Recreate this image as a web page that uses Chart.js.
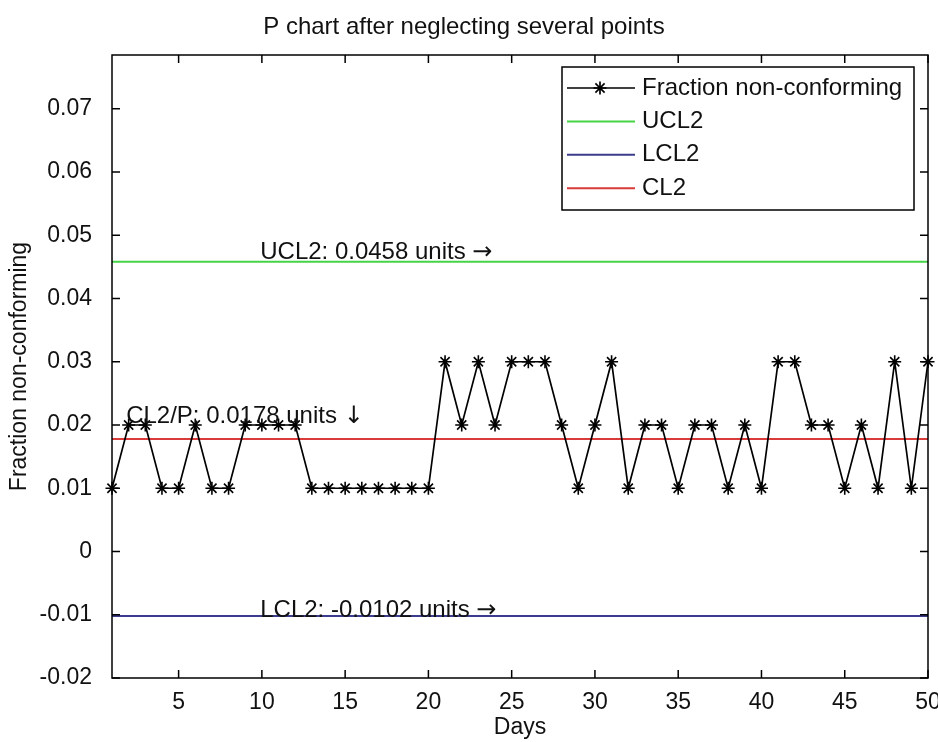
<!DOCTYPE html>
<html>
<head>
<meta charset="utf-8">
<script src="https://cdn.jsdelivr.net/npm/chart.js@4/dist/chart.umd.min.js"></script>
<style>
  body { margin: 0; background: #fff; }
  #wrap { width: 938px; height: 742px; }
</style>
</head>
<body>
<div id="wrap"><canvas id="pchart" width="938" height="742"></canvas></div>
<script>
// data
const days = [1, 2, 3, 4, 5, 6, 7, 8, 9, 10,
              11, 12, 13, 14, 15, 16, 17, 18, 19, 20,
              21, 22, 23, 24, 25, 26, 27, 28, 29, 30,
              31, 32, 33, 34, 35, 36, 37, 38, 39, 40,
              41, 42, 43, 44, 45, 46, 47, 48, 49, 50];
const fraction = [0.01, 0.02, 0.02, 0.01, 0.01, 0.02, 0.01, 0.01, 0.02, 0.02,
                  0.02, 0.02, 0.01, 0.01, 0.01, 0.01, 0.01, 0.01, 0.01, 0.01,
                  0.03, 0.02, 0.03, 0.02, 0.03, 0.03, 0.03, 0.02, 0.01, 0.02,
                  0.03, 0.01, 0.02, 0.02, 0.01, 0.02, 0.02, 0.01, 0.02, 0.01,
                  0.03, 0.03, 0.02, 0.02, 0.01, 0.02, 0.01, 0.03, 0.01, 0.03];
const ucl2 = 0.0458;
const lcl2 = -0.0102;
const cl2 = 0.0178;
const seriesLabels = ['Fraction non-conforming', 'UCL2', 'LCL2', 'CL2'];
const xTicks = [5, 10, 15, 20, 25, 30, 35, 40, 45, 50];
const yTicks = [-0.02, -0.01, 0, 0.01, 0.02, 0.03, 0.04, 0.05, 0.06, 0.07];
const notes = [
    { text: 'UCL2: 0.0458 units \u2192', value: ucl2 },
    { text: 'CL2/P: 0.0178 units \u2193', value: cl2 },
    { text: 'LCL2: -0.0102 units \u2192', value: lcl2 }
];

const FONT = "'Liberation Sans', Arial, sans-serif";
const colors = ['#000000', '#46d346', '#3c3c8e', '#d93a3a'];

// where the text notes sit: day on x, pixel shift of baseline from its line
const notePlace = [
    { day: 9.9, dy: -3 },
    { day: 1.85, dy: -16 },
    { day: 9.9, dy: 1 }
];

function flatLine(v) {
    return days.map(d => ({ x: d, y: v }));
}

// MATLAB style box with inward ticks on all four sides
const boxTicks = {
    id: 'boxTicks',
    afterDatasetsDraw(chart) {
        const { ctx, chartArea: a, scales: { x, y } } = chart;
        ctx.save();
        ctx.strokeStyle = '#000';
        ctx.lineWidth = 1.5;
        ctx.strokeRect(a.left, a.top, a.width, a.height);
        ctx.beginPath();
        xTicks.forEach(v => {
            const px = x.getPixelForValue(v);
            ctx.moveTo(px, a.bottom); ctx.lineTo(px, a.bottom - 8);
            ctx.moveTo(px, a.top); ctx.lineTo(px, a.top + 8);
        });
        yTicks.forEach(v => {
            const py = y.getPixelForValue(v);
            ctx.moveTo(a.left, py); ctx.lineTo(a.left + 8, py);
            ctx.moveTo(a.right, py); ctx.lineTo(a.right - 8, py);
        });
        ctx.stroke();
        ctx.restore();
    }
};

// text notes next to the control lines (arrow glyph taken from DejaVu, it is bigger)
const lineNotes = {
    id: 'lineNotes',
    afterDraw(chart) {
        const { ctx, scales: { x, y } } = chart;
        ctx.save();
        ctx.fillStyle = '#111';
        ctx.textBaseline = 'alphabetic';
        ctx.textAlign = 'left';
        notes.forEach((n, i) => {
            const p = notePlace[i];
            const body = n.text.slice(0, -1);
            const arrow = n.text.slice(-1);
            const px = x.getPixelForValue(p.day);
            const py = y.getPixelForValue(n.value) + p.dy;
            ctx.font = '24px ' + FONT;
            ctx.fillText(body, px, py);
            const w = ctx.measureText(body).width;
            ctx.font = "24px 'DejaVu Sans', sans-serif";
            ctx.fillText(arrow, px + w, py);
        });
        ctx.restore();
    }
};

// legend box in the top right corner
const boxLegend = {
    id: 'boxLegend',
    afterDraw(chart) {
        const { ctx, chartArea: a } = chart;
        const w = 352, h = 143;
        const left = a.right - 14 - w;
        const top = a.top + 12;
        ctx.save();
        ctx.fillStyle = '#fff';
        ctx.fillRect(left, top, w, h);
        ctx.strokeStyle = '#000';
        ctx.lineWidth = 1.5;
        ctx.strokeRect(left, top, w, h);
        ctx.font = '24px ' + FONT;
        ctx.textBaseline = 'middle';
        ctx.textAlign = 'left';
        chart.data.datasets.forEach((ds, i) => {
            const ry = top + 21 + i * 33.4;
            ctx.strokeStyle = ds.borderColor;
            ctx.lineWidth = ds.borderWidth;
            ctx.beginPath();
            ctx.moveTo(left + 5, ry);
            ctx.lineTo(left + 73, ry);
            ctx.stroke();
            if (ds.pointRadius > 0) {
                Chart.helpers.drawPoint(ctx, {
                    pointStyle: 'star', radius: ds.pointRadius,
                    borderWidth: ds.pointBorderWidth, rotation: 0
                }, left + 38, ry);
            }
            ctx.fillStyle = '#111';
            ctx.fillText(ds.label, left + 80, ry);
        });
        ctx.restore();
    }
};

new Chart(document.getElementById('pchart'), {
    type: 'line',
    data: {
        datasets: [
            {
                label: seriesLabels[0],
                data: days.map((d, i) => ({ x: d, y: fraction[i] })),
                borderColor: colors[0],
                borderWidth: 1.7,
                pointStyle: 'star',
                pointRadius: 6.5,
                pointBorderWidth: 1.6,
                pointBorderColor: '#000',
                pointBackgroundColor: '#000',
                tension: 0,
                clip: false
            },
            { label: seriesLabels[1], data: flatLine(ucl2), borderColor: colors[1], borderWidth: 2, pointRadius: 0 },
            { label: seriesLabels[2], data: flatLine(lcl2), borderColor: colors[2], borderWidth: 2, pointRadius: 0 },
            { label: seriesLabels[3], data: flatLine(cl2), borderColor: colors[3], borderWidth: 2, pointRadius: 0 }
        ]
    },
    options: {
        responsive: false,
        animation: false,
        devicePixelRatio: 1,
        layout: { padding: { left: 0, right: 10, top: 0, bottom: 0 } },
        plugins: {
            legend: { display: false },
            tooltip: { enabled: false },
            title: {
                display: true,
                text: 'P chart after neglecting several points',
                color: '#111',
                font: { family: FONT, size: 24, weight: 'normal' },
                padding: { top: 13, bottom: 13.2 }
            }
        },
        scales: {
            x: {
                type: 'linear',
                min: 1,
                max: 50,
                grid: { display: false },
                border: { display: false },
                afterBuildTicks: axis => { axis.ticks = xTicks.map(v => ({ value: v })); },
                afterFit: s => { s.height = 64; s.paddingLeft = 0; s.paddingRight = 0; },
                ticks: {
                    color: '#111',
                    font: { family: FONT, size: 23 },
                    padding: 3,
                    maxRotation: 0,
                    autoSkip: false
                },
                title: {
                    display: true,
                    text: 'Days',
                    color: '#111',
                    font: { family: FONT, size: 23 },
                    padding: { top: 0, bottom: 1 }
                }
            },
            y: {
                type: 'linear',
                min: -0.02,
                max: 0.0785,
                grid: { display: false },
                border: { display: false },
                afterBuildTicks: axis => { axis.ticks = yTicks.map(v => ({ value: v })); },
                afterFit: s => { s.width = 112; },
                ticks: {
                    color: '#111',
                    font: { family: FONT, size: 23 },
                    padding: 12,
                    callback: v => parseFloat(v.toFixed(2)).toString()
                },
                title: {
                    display: true,
                    text: 'Fraction non-conforming',
                    color: '#111',
                    font: { family: FONT, size: 23 },
                    padding: { top: 6, bottom: 0 }
                }
            }
        }
    },
    plugins: [boxTicks, lineNotes, boxLegend]
});
</script>
</body>
</html>
